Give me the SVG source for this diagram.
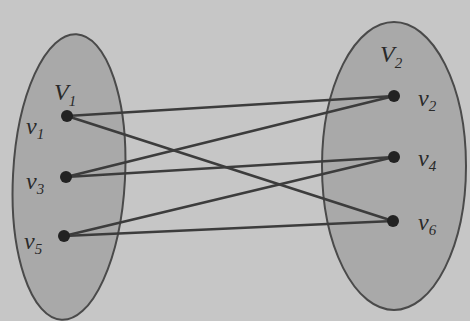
<svg xmlns="http://www.w3.org/2000/svg" width="470" height="321" viewBox="0 0 470 321">
<style>
.set{fill:#a9a9a9;stroke:#4a4a4a;stroke-width:2}
.e{stroke:#3c3c3c;stroke-width:2.6;fill:none;stroke-linecap:round}
.dot{fill:#222}
.lbl{font-family:"Liberation Serif",serif;font-style:italic;fill:#2a2a2a;font-size:24px}
.sub{font-size:15px}
</style>
<rect width="470" height="321" fill="#c6c6c6"/>
<g id="set-V1"><ellipse class="set" cx="69" cy="177" rx="56" ry="143" transform="rotate(3 69 177)"/>
<text class="lbl" x="54" y="100">V<tspan class="sub" dy="6">1</tspan></text></g>
<g id="set-V2"><ellipse class="set" cx="394" cy="166" rx="72" ry="144"/>
<text class="lbl" x="380" y="62">V<tspan class="sub" dy="6">2</tspan></text></g>
<g id="connectors">
<line class="e" x1="67" y1="116" x2="394" y2="96"/>
<line class="e" x1="67" y1="116" x2="393" y2="221"/>
<line class="e" x1="66" y1="177" x2="394" y2="96"/>
<line class="e" x1="66" y1="177" x2="394" y2="157"/>
<line class="e" x1="64" y1="236" x2="394" y2="157"/>
<line class="e" x1="64" y1="236" x2="393" y2="221"/>
</g>
<g id="v1"><circle class="dot" cx="67" cy="116" r="6"/><text class="lbl" x="26" y="134">v<tspan class="sub" dy="5">1</tspan></text></g>
<g id="v3"><circle class="dot" cx="66" cy="177" r="6"/><text class="lbl" x="26" y="189">v<tspan class="sub" dy="5">3</tspan></text></g>
<g id="v5"><circle class="dot" cx="64" cy="236" r="6"/><text class="lbl" x="24" y="249">v<tspan class="sub" dy="5">5</tspan></text></g>
<g id="v2"><circle class="dot" cx="394" cy="96" r="6"/><text class="lbl" x="418" y="106">v<tspan class="sub" dy="5">2</tspan></text></g>
<g id="v4"><circle class="dot" cx="394" cy="157" r="6"/><text class="lbl" x="418" y="166">v<tspan class="sub" dy="5">4</tspan></text></g>
<g id="v6"><circle class="dot" cx="393" cy="221" r="6"/><text class="lbl" x="418" y="230">v<tspan class="sub" dy="5">6</tspan></text></g>
</svg>
